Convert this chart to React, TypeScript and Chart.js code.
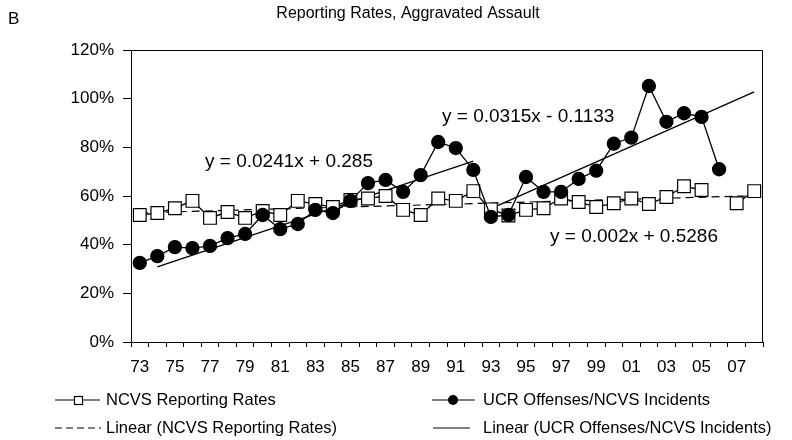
import React, { useEffect, useRef } from "react";
import { Chart, registerables } from "chart.js";

Chart.register(...registerables);

const FONT = '"Liberation Sans", Arial, Helvetica, sans-serif';

const years = [
  "73", "74", "75", "76", "77", "78", "79", "80", "81", "82", "83", "84",
  "85", "86", "87", "88", "89", "90", "91", "92", "93", "94", "95", "96",
  "97", "98", "99", "00", "01", "02", "03", "04", "05", "06", "07", "08",
];

// NCVS Reporting Rates (%)
const ncvsRates = [
  52.2, 53, 55, 58, 51, 53.4, 51, 53.8, 52.2, 58, 56.7, 55.5,
  58.4, 59, 60, 54.3, 52.2, 59, 58, 62, 54.5, 52, 54.3, 55,
  59, 57.5, 55.5, 57, 59, 56.7, 59.6, 64, 62.5, null, 57, 62,
];

// UCR Offenses / NCVS Incidents (%)
const ucrRatio = [
  32.5, 35.3, 39, 38.6, 39.5, 42.7, 44.4, 52.2, 46.4, 48.5, 54.3, 53,
  58, 65.3, 66.6, 61.7, 68.6, 82.2, 79.7, 70.7, 51.4, 52.2, 67.8, 61.7,
  61.7, 67, 70.4, 81.5, 84, 105.2, 90.5, 94, 92.5, 71, null, null,
];

// Trend line end points (%)
const ncvsTrend = [
  53.1, null, null, null, null, null, null, null, null, null, null, null,
  null, null, null, null, null, null, null, null, null, null, null, null,
  null, null, null, null, null, null, null, null, null, null, null, 60.1,
];
const ucrTrend1 = [
  null, 30.9, null, null, null, null, null, null, null, null, null, null,
  null, null, null, null, null, null, null, 74.3, null, null, null, null,
  null, null, null, null, null, null, null, null, null, null, null, null,
];
const ucrTrend2 = [
  null, null, null, null, null, null, null, null, null, null, null, null,
  null, null, null, null, null, null, null, null, 54.8, null, null, null,
  null, null, null, null, null, null, null, null, null, null, null, 102.8,
];

const yTicks = [0, 20, 40, 60, 80, 100, 120];

const titleText = "Reporting Rates, Aggravated Assault";
const panelLetter = "B";
const equations = [
  { text: "y = 0.0241x + 0.285", x: 205, y: 162 },
  { text: "y = 0.0315x - 0.1133", x: 442, y: 117 },
  { text: "y = 0.002x + 0.5286", x: 550, y: 237 },
];
const legendLabels = [
  "NCVS Reporting Rates",
  "UCR Offenses/NCVS Incidents",
  "Linear (NCVS Reporting Rates)",
  "Linear (UCR Offenses/NCVS Incidents)",
];

const decorPlugin = {
  id: "decor",
  afterDraw(chart: any) {
    const ctx = chart.ctx;
    const a = chart.chartArea;
    ctx.save();
    // frame top & right
    ctx.strokeStyle = "#000";
    ctx.lineWidth = 1;
    ctx.beginPath();
    ctx.moveTo(a.left, a.top + 0.5);
    ctx.lineTo(a.right - 0.5, a.top + 0.5);
    ctx.lineTo(a.right - 0.5, a.bottom);
    ctx.stroke();

    ctx.fillStyle = "#000";
    ctx.textBaseline = "middle";
    // title
    ctx.font = `16px ${FONT}`;
    ctx.textAlign = "center";
    ctx.fillText(titleText, 408, 14);
    // panel letter
    ctx.font = `17px ${FONT}`;
    ctx.textAlign = "left";
    ctx.fillText(panelLetter, 8, 19);

    // equations
    ctx.font = `19px ${FONT}`;
    for (const e of equations) ctx.fillText(e.text, e.x, e.y);

    // legend
    const r1 = 400, r2 = 428;
    ctx.font = `16.5px ${FONT}`;
    ctx.lineWidth = 1.2;
    // NCVS
    ctx.beginPath();
    ctx.moveTo(55, r1);
    ctx.lineTo(100, r1);
    ctx.stroke();
    ctx.fillStyle = "#fff";
    ctx.fillRect(74, r1 - 4, 8, 8);
    ctx.strokeRect(74.5, r1 - 3.5, 8, 8);
    ctx.fillStyle = "#000";
    ctx.fillText(legendLabels[0], 106, r1);
    // UCR
    ctx.beginPath();
    ctx.moveTo(432, r1);
    ctx.lineTo(475, r1);
    ctx.stroke();
    ctx.beginPath();
    ctx.arc(453, r1, 5, 0, Math.PI * 2);
    ctx.fill();
    ctx.fillText(legendLabels[1], 483, r1);
    // linear NCVS
    ctx.setLineDash([7, 4]);
    ctx.beginPath();
    ctx.moveTo(55, r2);
    ctx.lineTo(101, r2);
    ctx.stroke();
    ctx.setLineDash([]);
    ctx.fillText(legendLabels[2], 106, r2);
    // linear UCR
    ctx.beginPath();
    ctx.moveTo(433, r2);
    ctx.lineTo(470, r2);
    ctx.stroke();
    ctx.fillText(legendLabels[3], 483, r2);
    ctx.restore();
  },
};

export default function App() {
  const ref = useRef<HTMLCanvasElement | null>(null);
  useEffect(() => {
    if (!ref.current) return;
    const chart = new Chart(ref.current, {
      type: "line",
      data: {
        labels: years,
        datasets: [
          {
            label: legendLabels[1],
            data: ucrRatio,
            borderColor: "#000",
            backgroundColor: "#000",
            borderWidth: 1.3,
            pointStyle: "circle",
            pointRadius: 6.5,
            pointBackgroundColor: "#000",
            pointBorderColor: "#000",
            spanGaps: false,
          },
          {
            label: legendLabels[0],
            data: ncvsRates,
            borderColor: "#000",
            backgroundColor: "#fff",
            borderWidth: 1.3,
            pointStyle: "rect",
            pointRadius: 9,
            pointBackgroundColor: "#fff",
            pointBorderColor: "#000",
            pointBorderWidth: 1.2,
            spanGaps: false,
          },
          {
            label: legendLabels[2],
            data: ncvsTrend,
            borderColor: "#000",
            borderWidth: 1.2,
            borderDash: [8, 5],
            pointRadius: 0,
            spanGaps: true,
          },
          {
            label: legendLabels[3],
            data: ucrTrend1,
            borderColor: "#000",
            borderWidth: 1.3,
            pointRadius: 0,
            spanGaps: true,
          },
          {
            label: legendLabels[3],
            data: ucrTrend2,
            borderColor: "#000",
            borderWidth: 1.3,
            pointRadius: 0,
            spanGaps: true,
          },
        ],
      },
      options: {
        responsive: false,
        animation: false,
        layout: { padding: { left: 0, top: 50, right: 29, bottom: 58 } },
        plugins: {
          legend: { display: false },
          title: { display: false },
          tooltip: { enabled: false },
        },
        scales: {
          x: {
            type: "category",
            offset: true,
            grid: {
              offset: true,
              drawOnChartArea: false,
              drawTicks: true,
              tickLength: 5,
              color: "#000",
            },
            border: { display: true, color: "#000", width: 1 },
            ticks: {
              autoSkip: false,
              maxRotation: 0,
              minRotation: 0,
              padding: 10,
              color: "#000",
              font: { family: FONT, size: 17 },
              callback: (_v: any, i: number) => (i % 2 === 0 ? years[i] : ""),
            },
            afterFit: (s: any) => {
              s.height = 40;
            },
          },
          y: {
            min: 0,
            max: 120,
            afterBuildTicks: (s: any) => {
              s.ticks = yTicks.map((v) => ({ value: v }));
            },
            grid: {
              drawOnChartArea: false,
              drawTicks: true,
              tickLength: 8,
              color: "#000",
            },
            border: { display: true, color: "#000", width: 1 },
            ticks: {
              padding: 9,
              color: "#000",
              font: { family: FONT, size: 17 },
              callback: (v: any) => `${v}%`,
            },
            afterFit: (s: any) => {
              s.width = 131;
            },
          },
        },
      },
      plugins: [decorPlugin],
    });
    return () => chart.destroy();
  }, []);
  return (
    <div style={{ position: "fixed", left: 0, top: 0, width: 792, height: 440, background: "#fff" }}>
      <canvas ref={ref} width={792} height={440} style={{ width: 792, height: 440, display: "block" }} />
    </div>
  );
}
